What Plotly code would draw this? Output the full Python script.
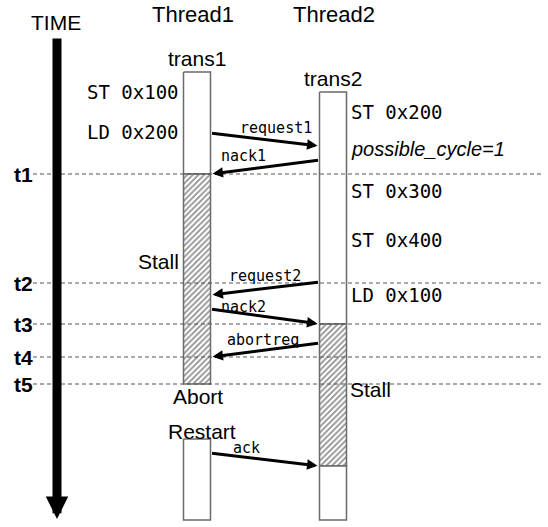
import plotly.graph_objects as go

# ---------------- data ----------------
time_labels = ["t1", "t2", "t3", "t4", "t5"]
time_y = [174, 283, 324, 357, 384]

thread_names = ["Thread1", "Thread2"]
thread_x = [197, 333]
trans_names = ["trans1", "trans2"]

# boxes: (thread index, top, bottom, hatched)
box_thread = [0, 0, 0, 1, 1, 1]
box_top = [72, 174, 439, 92, 324, 466]
box_bottom = [174, 384, 520, 324, 466, 520]
box_hatched = [False, True, False, False, True, False]

# messages: label, from thread, to thread, y at sender, y at receiver
msg_labels = ["request1", "nack1", "request2", "nack2", "abortreq", "ack"]
msg_from = [0, 1, 1, 0, 1, 0]
msg_to = [1, 0, 0, 1, 0, 1]
msg_y_from = [133, 160, 282, 309, 343, 453]
msg_y_to = [146, 174, 295, 324, 357, 466]

# instruction text per thread
t1_instr = ["ST 0x100", "LD 0x200"]
t1_instr_y = [92, 132]
t2_instr = ["ST 0x200", "possible_cycle=1", "ST 0x300", "ST 0x400", "LD 0x100"]
t2_instr_y = [112, 149, 191, 240, 295]

# state notes: text, thread, y
note_text = ["Stall", "Abort", "Restart", "Stall"]
note_thread = [0, 0, 0, 1]
note_y = [261, 396, 431, 389]

# ---------------- style ----------------
W, H = 548, 527
BOX_HALF = 13.5
SANS = "Liberation Sans, Arial, sans-serif"
MONO = "DejaVu Sans Mono, monospace"
GRAY = "#6a6a6a"

fig = go.Figure()

# boxes
for th, y0, y1, hat in zip(box_thread, box_top, box_bottom, box_hatched):
    xc = thread_x[th]
    xs = [xc - BOX_HALF, xc + BOX_HALF, xc + BOX_HALF, xc - BOX_HALF, xc - BOX_HALF]
    ys = [y0, y0, y1, y1, y0]
    kw = dict(x=xs, y=ys, mode="lines", fill="toself",
              line=dict(color=GRAY, width=1.5), hoverinfo="skip", showlegend=False)
    if hat:
        kw["fillpattern"] = dict(shape="/", fgcolor="#222222", bgcolor="white",
                                 size=4, solidity=0.45)
    else:
        kw["fillcolor"] = "white"
    fig.add_trace(go.Scatter(**kw))

shapes = []
annotations = []

# dashed time lines
for lab, y in zip(time_labels, time_y):
    shapes.append(dict(type="line", xref="x", yref="y", x0=33, x1=543, y0=y, y1=y,
                       line=dict(color="#555555", width=1, dash="4px,3px"), layer="above"))
    annotations.append(dict(x=23, y=y, xref="x", yref="y", text="<b>" + lab + "</b>",
                            showarrow=False, font=dict(family=SANS, size=21, color="black"),
                            xanchor="center", yanchor="middle"))

# time arrow
annotations.append(dict(x=57, y=519, ax=57, ay=37, xref="x", yref="y", axref="x", ayref="y",
                        text="", showarrow=True, arrowhead=2, arrowwidth=9, arrowsize=0.5,
                        arrowcolor="black", standoff=0))
annotations.append(dict(x=56, y=22, xref="x", yref="y", text="TIME", showarrow=False,
                        font=dict(family=SANS, size=21, color="black")))

# thread headers and transaction names
for name, xc in zip(thread_names, thread_x):
    annotations.append(dict(x=xc - 4 if name == "Thread1" else xc + 1, y=14, xref="x", yref="y",
                            text=name, showarrow=False,
                            font=dict(family=SANS, size=22, color="black")))
annotations.append(dict(x=thread_x[0], y=58, xref="x", yref="y", text=trans_names[0],
                        showarrow=False, font=dict(family=SANS, size=21, color="black")))
annotations.append(dict(x=thread_x[1], y=78, xref="x", yref="y", text=trans_names[1],
                        showarrow=False, font=dict(family=SANS, size=21, color="black")))

# instructions
for txt, y in zip(t1_instr, t1_instr_y):
    annotations.append(dict(x=181, y=y, xref="x", yref="y", text=txt, showarrow=False,
                            xanchor="right", font=dict(family=MONO, size=19, color="black")))
for txt, y in zip(t2_instr, t2_instr_y):
    if "=" in txt:
        t, fnt = "<i>" + txt + "</i>", dict(family=SANS, size=20, color="black")
    else:
        t, fnt = txt, dict(family=MONO, size=19, color="black")
    annotations.append(dict(x=349, y=y, xref="x", yref="y", text=t, showarrow=False,
                            xanchor="left", font=fnt))

# notes
for txt, th, y in zip(note_text, note_thread, note_y):
    xc = thread_x[th]
    if th == 1:
        ann = dict(x=xc + BOX_HALF + 1, xanchor="left")
    elif txt == "Stall":
        ann = dict(x=xc - BOX_HALF - 3, xanchor="right")
    else:
        ann = dict(x=xc + (5 if txt == "Restart" else 1), xanchor="center")
    ann.update(y=y, xref="x", yref="y", text=txt, showarrow=False,
               font=dict(family=SANS, size=21, color="black"))
    annotations.append(ann)

# messages
label_frac = [0.6, 0.3, 0.5, 0.3, 0.48, 0.33]
label_lift = [13, 14, 13, 7, 10, 9]
for lab, f, t, y0, y1, fr, lift in zip(msg_labels, msg_from, msg_to, msg_y_from, msg_y_to,
                                       label_frac, label_lift):
    xf = thread_x[f] + (BOX_HALF if f == 0 else -BOX_HALF)
    xt = thread_x[t] + (BOX_HALF if t == 0 else -BOX_HALF)
    annotations.append(dict(x=xt, y=y1, ax=xf, ay=y0, xref="x", yref="y", axref="x", ayref="y",
                            text="", showarrow=True, arrowhead=2, arrowwidth=3, arrowsize=0.7,
                            arrowcolor="black", standoff=2))
    left, right = min(xf, xt), max(xf, xt)
    xl = left + fr * (right - left)
    ya = y0 + (y1 - y0) * (xl - xf) / (xt - xf)
    annotations.append(dict(x=xl, y=ya - lift, xref="x", yref="y", text=lab, showarrow=False,
                            font=dict(family=MONO, size=15, color="black")))

fig.update_layout(
    width=W, height=H, margin=dict(l=0, r=0, t=0, b=0),
    paper_bgcolor="white", plot_bgcolor="white",
    xaxis=dict(range=[0, W], visible=False, fixedrange=True),
    yaxis=dict(range=[H, 0], visible=False, fixedrange=True),
    shapes=shapes, annotations=annotations, showlegend=False,
)

fig.write_html("out.html", config={"displayModeBar": False},
               post_script="document.body.style.margin='0';document.body.style.overflow='hidden';")
